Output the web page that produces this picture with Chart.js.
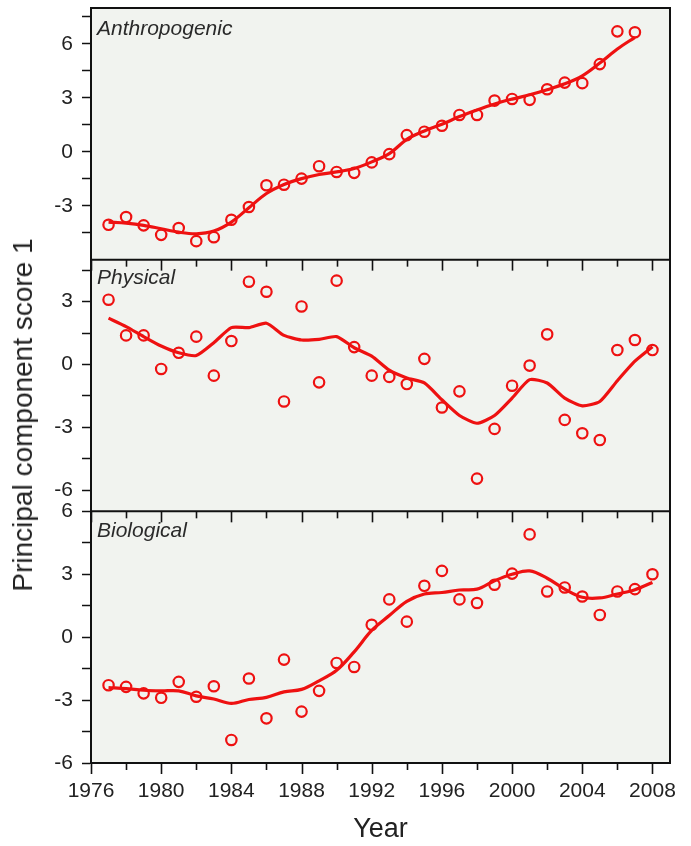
<!DOCTYPE html>
<html>
<head>
<meta charset="utf-8">
<script src="https://cdn.jsdelivr.net/npm/chart.js@4.4.1/dist/chart.umd.min.js"></script>
<style>
  html, body { margin: 0; padding: 0; background: #ffffff; }
  #wrap { position: relative; width: 691px; height: 846px; }
  #ytitle {
    position: absolute; left: 23px; top: 415px;
    transform: translate(-50%, -50%) rotate(-90deg);
    font: 28px "Liberation Sans", Arial, sans-serif; color: #222;
    white-space: nowrap;
  }
</style>
</head>
<body>
<div id="wrap">
  <canvas id="chart" width="691" height="846"></canvas>
  <div id="ytitle">Principal component score 1</div>
</div>
<script>
// Survey years
const years = [1977, 1978, 1979, 1980, 1981, 1982, 1983, 1984, 1985, 1986, 1987, 1988,
               1989, 1990, 1991, 1992, 1993, 1994, 1995, 1996, 1997, 1998, 1999, 2000,
               2001, 2002, 2003, 2004, 2005, 2006, 2007, 2008];

// Anthropogenic PC1 scores (1977-2007) and smoothed trend
const anthroScores = [-4.06, -3.63, -4.09, -4.62, -4.24, -4.97, -4.75, -3.78, -3.07, -1.86, -1.83,
                      -1.49, -0.80, -1.12, -1.17, -0.59, -0.13, 0.93, 1.12, 1.45, 2.05, 2.05,
                      2.85, 2.94, 2.89, 3.48, 3.85, 3.82, 4.88, 6.70, 6.65];
const anthroTrend = [-3.91, -3.97, -4.09, -4.28, -4.47, -4.56, -4.41, -3.91, -3.11, -2.32, -1.82,
                     -1.49, -1.26, -1.12, -0.93, -0.56, -0.10, 0.69, 1.16, 1.53, 1.96, 2.33,
                     2.66, 2.93, 3.17, 3.45, 3.78, 4.23, 4.94, 5.72, 6.37];

// Physical PC1 scores (1977-2008) and smoothed trend
const physScores = [3.09, 1.39, 1.39, -0.21, 0.56, 1.33, -0.53, 1.12, 3.95, 3.47, -1.76, 2.77,
                    -0.85, 4.00, 0.83, -0.53, -0.59, -0.93, 0.27, -2.05, -1.28, -5.44, -3.07,
                    -1.01, -0.05, 1.44, -2.64, -3.28, -3.60, 0.69, 1.17, 0.69];
const physTrend = [2.21, 1.81, 1.33, 0.88, 0.56, 0.43, 1.04, 1.76, 1.76, 1.97, 1.39, 1.17,
                   1.20, 1.33, 0.80, 0.40, -0.27, -0.64, -0.88, -1.68, -2.43, -2.80, -2.43,
                   -1.60, -0.72, -0.88, -1.60, -1.97, -1.76, -0.77, 0.16, 0.85];

// Biological PC1 scores (1977-2008) and smoothed trend
const bioScores = [-2.29, -2.37, -2.68, -2.89, -2.13, -2.84, -2.34, -4.90, -1.97, -3.87, -1.07,
                   -3.55, -2.56, -1.23, -1.42, 0.59, 1.80, 0.74, 2.45, 3.16, 1.80, 1.63, 2.50,
                   3.03, 4.90, 2.18, 2.37, 1.94, 1.06, 2.18, 2.29, 3.00];
const bioTrend = [-2.40, -2.45, -2.53, -2.56, -2.56, -2.80, -2.95, -3.16, -2.97, -2.87, -2.61,
                  -2.49, -2.08, -1.58, -0.70, 0.32, 1.03, 1.71, 2.06, 2.13, 2.25, 2.29, 2.69,
                  3.00, 3.16, 2.81, 2.29, 1.90, 1.87, 2.06, 2.26, 2.61];

// Axis ticks and labels
const yearTicks = [1976, 1978, 1980, 1982, 1984, 1986, 1988, 1990, 1992, 1994, 1996, 1998,
                   2000, 2002, 2004, 2006, 2008];
const yearLabels = [1976, 1980, 1984, 1988, 1992, 1996, 2000, 2004, 2008];
const anthroTicks = [-4.5, -3, -1.5, 0, 1.5, 3, 4.5, 6, 7.5];
const anthroLabels = [-3, 0, 3, 6];
const physTicks = [-6, -4.5, -3, -1.5, 0, 1.5, 3, 4.5];
const physLabels = [-6, -3, 0, 3];
const bioTicks = [-6, -4.5, -3, -1.5, 0, 1.5, 3, 4.5, 6];
const bioLabels = [-6, -3, 0, 3, 6];

const panelNames = ['Anthropogenic', 'Physical', 'Biological'];

const RED = '#ee1111';
const FONT = '"Liberation Sans", Arial, sans-serif';
const TEXT = '#222222';

const pts = (xs, ys) => ys.map((v, i) => ({ x: xs[i], y: v }));

function scatterSet(ys, axis) {
  return {
    type: 'scatter', yAxisID: axis, data: pts(years, ys), order: 0,
    pointStyle: 'circle', pointRadius: 5.2, pointBorderWidth: 2.2,
    borderColor: RED, backgroundColor: 'rgba(0,0,0,0)', showLine: false
  };
}
function trendSet(ys, axis, tension) {
  return {
    type: 'line', yAxisID: axis, data: pts(years, ys), order: 1,
    borderColor: RED, borderWidth: 3.2, pointRadius: 0, tension: tension,
    fill: false, cubicInterpolationMode: 'default'
  };
}

function yAxis(min, max, tickVals, labelVals, weight) {
  return {
    type: 'linear', position: 'left', stack: 'panels', stackWeight: 1, weight: weight,
    min: min, max: max,
    afterBuildTicks: (axis) => { axis.ticks = tickVals.map(v => ({ value: v })); },
    afterFit: (axis) => { axis.width = 91; axis.paddingTop = 0; axis.paddingBottom = 0; },
    ticks: {
      autoSkip: false, padding: 9, color: TEXT,
      font: { family: FONT, size: 21 },
      callback: (v) => labelVals.includes(v) ? String(v) : ''
    },
    grid: { drawOnChartArea: false, drawTicks: true, tickLength: 9, tickColor: '#111', tickWidth: 1.5 },
    border: { display: true, color: '#111', width: 2 }
  };
}

// Background and panel frames, inter-panel year ticks and panel names
const panelDecor = {
  id: 'panelDecor',
  beforeDraw(chart) {
    const { ctx, chartArea: a } = chart;
    ctx.save();
    ctx.fillStyle = '#f1f3ef';
    ctx.fillRect(a.left, a.top, a.right - a.left, a.bottom - a.top);
    ctx.restore();
  },
  afterDraw(chart) {
    const { ctx, chartArea: a, scales } = chart;
    const xs = scales.x;
    const axes = [scales.yA, scales.yB, scales.yC];
    ctx.save();
    ctx.strokeStyle = '#111';
    ctx.lineWidth = 2;
    ctx.strokeRect(a.left, a.top, a.right - a.left, a.bottom - a.top);
    axes.forEach((s, i) => {
      const yb = s.bottom;
      if (i < 2) {
        ctx.beginPath();
        ctx.moveTo(a.left, yb); ctx.lineTo(a.right, yb);
        ctx.stroke();
      }
      ctx.lineWidth = 1.6;
      yearTicks.forEach(v => {
        const px = Math.round(xs.getPixelForValue(v)) + 0.5;
        const len = yearLabels.includes(v) ? 11 : 7;
        ctx.beginPath();
        ctx.moveTo(px, yb); ctx.lineTo(px, yb + len);
        ctx.stroke();
      });
      ctx.lineWidth = 2;
    });
    ctx.fillStyle = '#2a2a2a';
    ctx.font = 'italic 21px ' + FONT;
    ctx.textBaseline = 'alphabetic';
    const offs = [27, 24, 26];
    axes.forEach((s, i) => {
      ctx.fillText(panelNames[i], 97, s.top + offs[i]);
    });
    ctx.restore();
  }
};

new Chart(document.getElementById('chart'), {
  data: {
    datasets: [
      scatterSet(anthroScores, 'yA'), trendSet(anthroTrend, 'yA', 0.35),
      scatterSet(physScores, 'yB'), trendSet(physTrend, 'yB', 0.2),
      scatterSet(bioScores, 'yC'), trendSet(bioTrend, 'yC', 0.35)
    ]
  },
  options: {
    responsive: false, animation: false, devicePixelRatio: 1,
    layout: { padding: { top: 8, right: 21, left: 0, bottom: 0 } },
    plugins: { legend: { display: false }, tooltip: { enabled: false } },
    scales: {
      x: {
        type: 'linear', position: 'bottom', min: 1976, max: 2009,
        afterBuildTicks: (axis) => { axis.ticks = yearTicks.map(v => ({ value: v })); },
        afterFit: (axis) => { axis.height = 83; },
        ticks: {
          autoSkip: false, maxRotation: 0, padding: 5, color: TEXT,
          font: { family: FONT, size: 21 },
          callback: (v) => yearLabels.includes(v) ? String(v) : ''
        },
        grid: { drawOnChartArea: false, drawTicks: true, tickLength: 11, tickColor: 'rgba(0,0,0,0)' },
        border: { display: true, color: '#111', width: 2 },
        title: { display: true, text: 'Year', color: TEXT, font: { family: FONT, size: 27 }, padding: { top: 4, bottom: 0 } }
      },
      yC: yAxis(-6, 6, bioTicks, bioLabels, 1),
      yB: yAxis(-7, 5, physTicks, physLabels, 2),
      yA: yAxis(-6, 8, anthroTicks, anthroLabels, 3)
    }
  },
  plugins: [panelDecor]
});
</script>
</body>
</html>
